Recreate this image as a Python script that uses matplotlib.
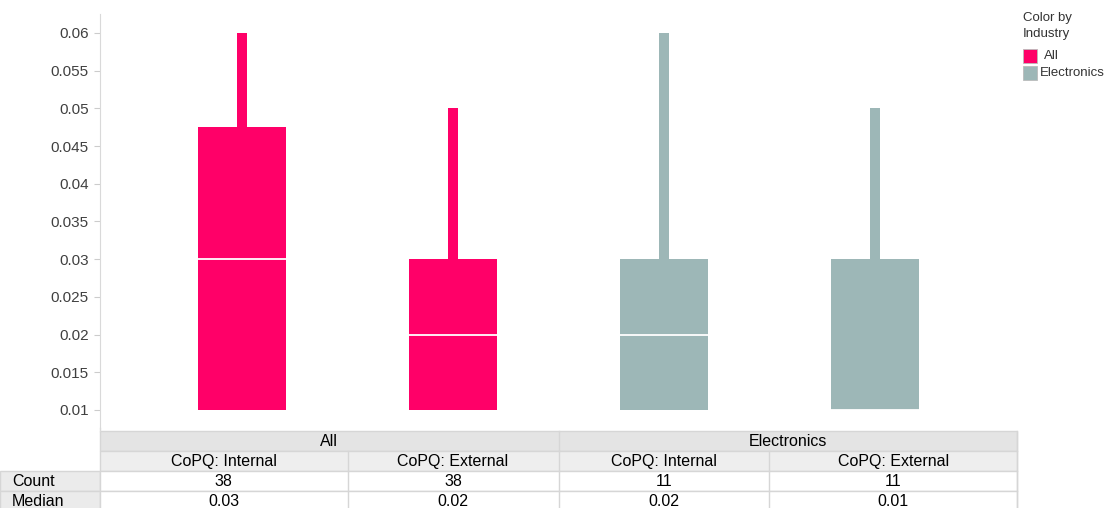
import matplotlib
matplotlib.use("Agg")
import matplotlib.pyplot as plt
from matplotlib.patches import Rectangle

plt.rcParams['font.family'] = ['Liberation Sans', 'DejaVu Sans']

# ---- data ----
categories = ["CoPQ: Internal", "CoPQ: External", "CoPQ: Internal", "CoPQ: External"]
industries = ["All", "All", "Electronics", "Electronics"]
q1_vals = [0.01, 0.01, 0.01, 0.01]
median_vals = [0.03, 0.02, 0.02, 0.01]
q3_vals = [0.0475, 0.03, 0.03, 0.03]
max_vals = [0.06, 0.05, 0.06, 0.05]
count_vals = [38, 38, 11, 11]
median_labels = ["0.03", "0.02", "0.02", "0.01"]
yticks = [0.01, 0.015, 0.02, 0.025, 0.03, 0.035, 0.04, 0.045, 0.05, 0.055, 0.06]
ytick_labels = ["0.01", "0.015", "0.02", "0.025", "0.03", "0.035", "0.04", "0.045", "0.05", "0.055", "0.06"]
legend_items = ["All", "Electronics"]

colors = {"All": "#FF0068", "Electronics": "#9DB7B7"}

W, H = 1104, 508
fig = plt.figure(figsize=(W / 100, H / 100), dpi=100)

# main plot axes in pixel layout
ax_l, ax_r, ax_t, ax_b = 100, 1017, 14, 428
ax = fig.add_axes([ax_l / W, 1 - ax_b / H, (ax_r - ax_l) / W, (ax_b - ax_t) / H])
XL = (-0.673, 3.673)
ax.set_xlim(*XL)
ax.set_ylim(0.00761, 0.06252)

xs = list(range(len(categories)))
box_w = 0.417
wh_w = 0.043
for i in xs:
    c = colors[industries[i]]
    ax.bar(i, q3_vals[i] - q1_vals[i], bottom=q1_vals[i], width=box_w, color=c,
           edgecolor='none', zorder=2)
    ax.bar(i, max_vals[i] - q3_vals[i], bottom=q3_vals[i], width=wh_w, color=c,
           edgecolor='none', zorder=2)
    ax.hlines(median_vals[i], i - box_w / 2, i + box_w / 2, colors='white',
              linewidth=1.3, zorder=3)

for s in ['top', 'right', 'bottom']:
    ax.spines[s].set_visible(False)
ax.spines['left'].set_color('#D9D9D9')
ax.set_xticks([])
ax.set_yticks(yticks)
ax.set_yticklabels(ytick_labels)
ax.tick_params(axis='y', length=4, color='#CCCCCC', labelcolor='#404040',
               labelsize=11, pad=4)

# ---- table / legend overlay in pixel coordinates ----
tab = fig.add_axes([0, 0, 1, 1])
tab.set_xlim(0, W)
tab.set_ylim(H, 0)
tab.axis('off')

def px(x):
    return ax_l + (x - XL[0]) / (XL[1] - XL[0]) * (ax_r - ax_l)

# column boundaries
bounds = [XL[0]] + [i + 0.5 for i in xs[:-1]] + [XL[1]]
bpx = [px(b) for b in bounds]
line_c = '#D6D6D6'
fs = 11.5

# vertical axis stub down to table
tab.plot([ax_l, ax_l], [ax_b, 431], color='#D9D9D9', lw=1)

# row 1: industry header
r1t, r1b = 431, 451
tab.add_patch(Rectangle((ax_l, r1t), ax_r - ax_l, r1b - r1t, facecolor='#E4E4E4',
                        edgecolor=line_c, lw=1))
groups = []
for i, ind in enumerate(industries):
    if groups and groups[-1][0] == ind:
        groups[-1][2] = i
    else:
        groups.append([ind, i, i])
for ind, a, b in groups:
    x0, x1 = bpx[a], bpx[b + 1]
    tab.plot([x1, x1], [r1t, r1b], color=line_c, lw=1)
    tab.text((x0 + x1) / 2, (r1t + r1b) / 2 + 0.5, ind, ha='center', va='center',
             fontsize=fs, color='black')

# row 2: category header
r2t, r2b = 451, 471
tab.add_patch(Rectangle((ax_l, r2t), ax_r - ax_l, r2b - r2t, facecolor='#EEEEEE',
                        edgecolor=line_c, lw=1))
for i in xs:
    x0, x1 = bpx[i], bpx[i + 1]
    tab.plot([x1, x1], [r2t, r2b], color=line_c, lw=1)
    tab.text((x0 + x1) / 2, (r2t + r2b) / 2 + 0.5, categories[i], ha='center',
             va='center', fontsize=fs, color='black')

# rows 3,4: values
rows = [("Count", [str(v) for v in count_vals], 471, 491),
        ("Median", median_labels, 491, 511)]
for label, vals, t, b in rows:
    tab.add_patch(Rectangle((0, t), ax_l, b - t, facecolor='#EBEBEB',
                            edgecolor=line_c, lw=1))
    tab.text(12, (t + b) / 2 + 0.5, label, ha='left', va='center', fontsize=fs,
             color='black')
    tab.add_patch(Rectangle((ax_l, t), ax_r - ax_l, b - t, facecolor='white',
                            edgecolor=line_c, lw=1))
    for i in xs:
        x0, x1 = bpx[i], bpx[i + 1]
        tab.plot([x1, x1], [t, b], color=line_c, lw=1)
        tab.text((x0 + x1) / 2, (t + b) / 2 + 0.5, vals[i], ha='center',
                 va='center', fontsize=fs, color='black')

# legend
tab.text(1023, 12, "Color by\nIndustry", ha='left', va='top', fontsize=9.5,
         color='#333333', linespacing=1.45)
ly = [49, 66]
lx_text = [1044, 1040]
for k, name in enumerate(legend_items):
    tab.add_patch(Rectangle((1023, ly[k]), 14, 14, facecolor=colors[name],
                            edgecolor='#BBBBBB', lw=0.6))
    tab.text(lx_text[k], ly[k] + 7, name, ha='left', va='center', fontsize=9.5,
             color='#333333')

fig.savefig("out.png", dpi=100)
